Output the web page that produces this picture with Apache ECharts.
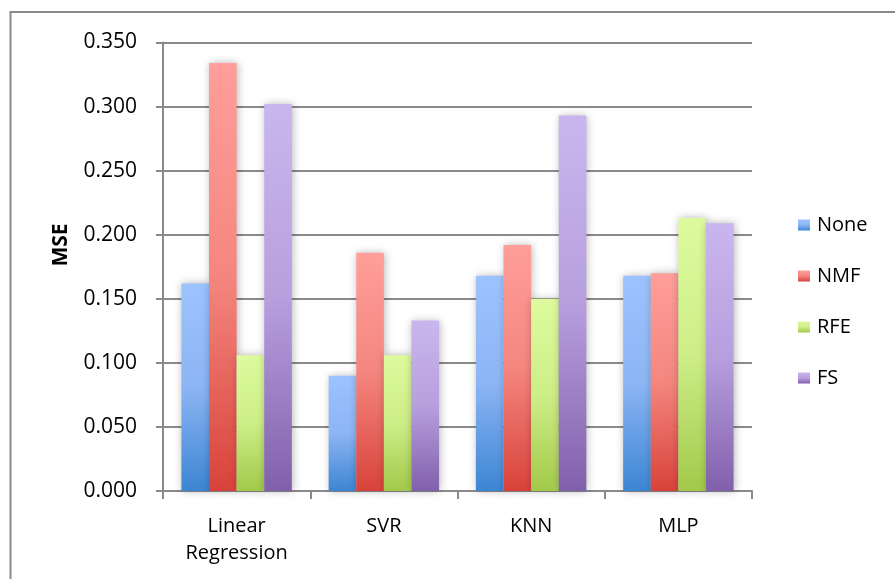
<!DOCTYPE html>
<html>
<head>
<meta charset="utf-8">
<script src="https://cdn.jsdelivr.net/npm/echarts@6/dist/echarts.min.js"></script>
<style>
  html, body { margin: 0; padding: 0; background: #fff; }
  #chart { width: 895px; height: 579px; }
</style>
</head>
<body>
<div id="chart"></div>
<script>
// Regression models compared by feature-selection method (mean squared error)
const categories = ['Linear\nRegression', 'SVR', 'KNN', 'MLP'];
const seriesNames = ['None', 'NMF', 'RFE', 'FS'];
const noneValues = [0.162, 0.090, 0.168, 0.168];
const nmfValues  = [0.334, 0.186, 0.192, 0.170];
const rfeValues  = [0.106, 0.106, 0.150, 0.213];
const fsValues   = [0.302, 0.133, 0.293, 0.209];
const yTicks = { min: 0, max: 0.35, interval: 0.05 };

// top / middle / bottom colours of each bar's vertical gradient
const palettes = [
  ['#9DC3FF', '#8CB5F4', '#3C85D3'],
  ['#FF9E9A', '#F4867F', '#D8433A'],
  ['#DDFB9E', '#CEEE87', '#A2C94A'],
  ['#CAB6EE', '#B79FDE', '#8160AB']
];
const allValues = [noneValues, nmfValues, rfeValues, fsValues];

const FONT = '"Open Sans", Lato, sans-serif';

function gradient(p) {
  return new echarts.graphic.LinearGradient(0, 0, 0, 1, [
    { offset: 0, color: p[0] },
    { offset: 0.5, color: p[1] },
    { offset: 1, color: p[2] }
  ]);
}

const chart = echarts.init(document.getElementById('chart'), null, { renderer: 'canvas' });

chart.setOption({
  animation: false,
  backgroundColor: '#ffffff',
  grid: { left: 163, right: 143, top: 42.5, bottom: 88, containLabel: false },
  legend: {
    orient: 'vertical',
    left: 798,
    top: 215,
    padding: 0,
    itemWidth: 12,
    itemHeight: 11,
    itemGap: 31,
    icon: 'rect',
    data: seriesNames,
    textStyle: { fontFamily: FONT, fontSize: 20, color: '#000', lineHeight: 20, padding: [0, 0, 0, 2] }
  },
  xAxis: {
    type: 'category',
    data: categories,
    axisLine: { lineStyle: { color: '#8a8a8a', width: 2 } },
    axisTick: { show: true, length: 8, lineStyle: { color: '#8a8a8a', width: 2 } },
    axisLabel: {
      fontFamily: FONT, fontSize: 20, color: '#000', margin: 22, lineHeight: 27
    },
    splitLine: { show: false }
  },
  yAxis: {
    type: 'value',
    min: yTicks.min,
    max: yTicks.max,
    interval: yTicks.interval,
    axisLine: { show: true, lineStyle: { color: '#8a8a8a', width: 2 } },
    axisTick: { show: true, length: 7, lineStyle: { color: '#8a8a8a', width: 2 } },
    axisLabel: {
      fontFamily: FONT, fontSize: 21, color: '#000', margin: 26,
      formatter: v => v.toFixed(3)
    },
    splitLine: { show: true, lineStyle: { color: '#8a8a8a', width: 2 } }
  },
  series: seriesNames.map((name, i) => ({
    name: name,
    type: 'bar',
    data: allValues[i],
    barGap: '0%',
    barCategoryGap: '25%',
    itemStyle: {
      color: gradient(palettes[i]),
      shadowColor: 'rgba(0,0,0,0.28)',
      shadowBlur: 8,
      shadowOffsetX: 1
    }
  })),
  graphic: [
    {
      type: 'rect',
      left: 8, top: 9.5,
      shape: { x: 0, y: 0, width: 1000, height: 1000 },
      style: { fill: 'none', stroke: '#8a8a8a', lineWidth: 2 },
      silent: true
    },
    {
      type: 'text',
      x: 61, y: 245,
      rotation: Math.PI / 2,
      style: {
        text: 'MSE',
        font: 'bold 21px ' + FONT,
        fill: '#000',
        align: 'center',
        verticalAlign: 'middle'
      }
    }
  ]
});
</script>
</body>
</html>
